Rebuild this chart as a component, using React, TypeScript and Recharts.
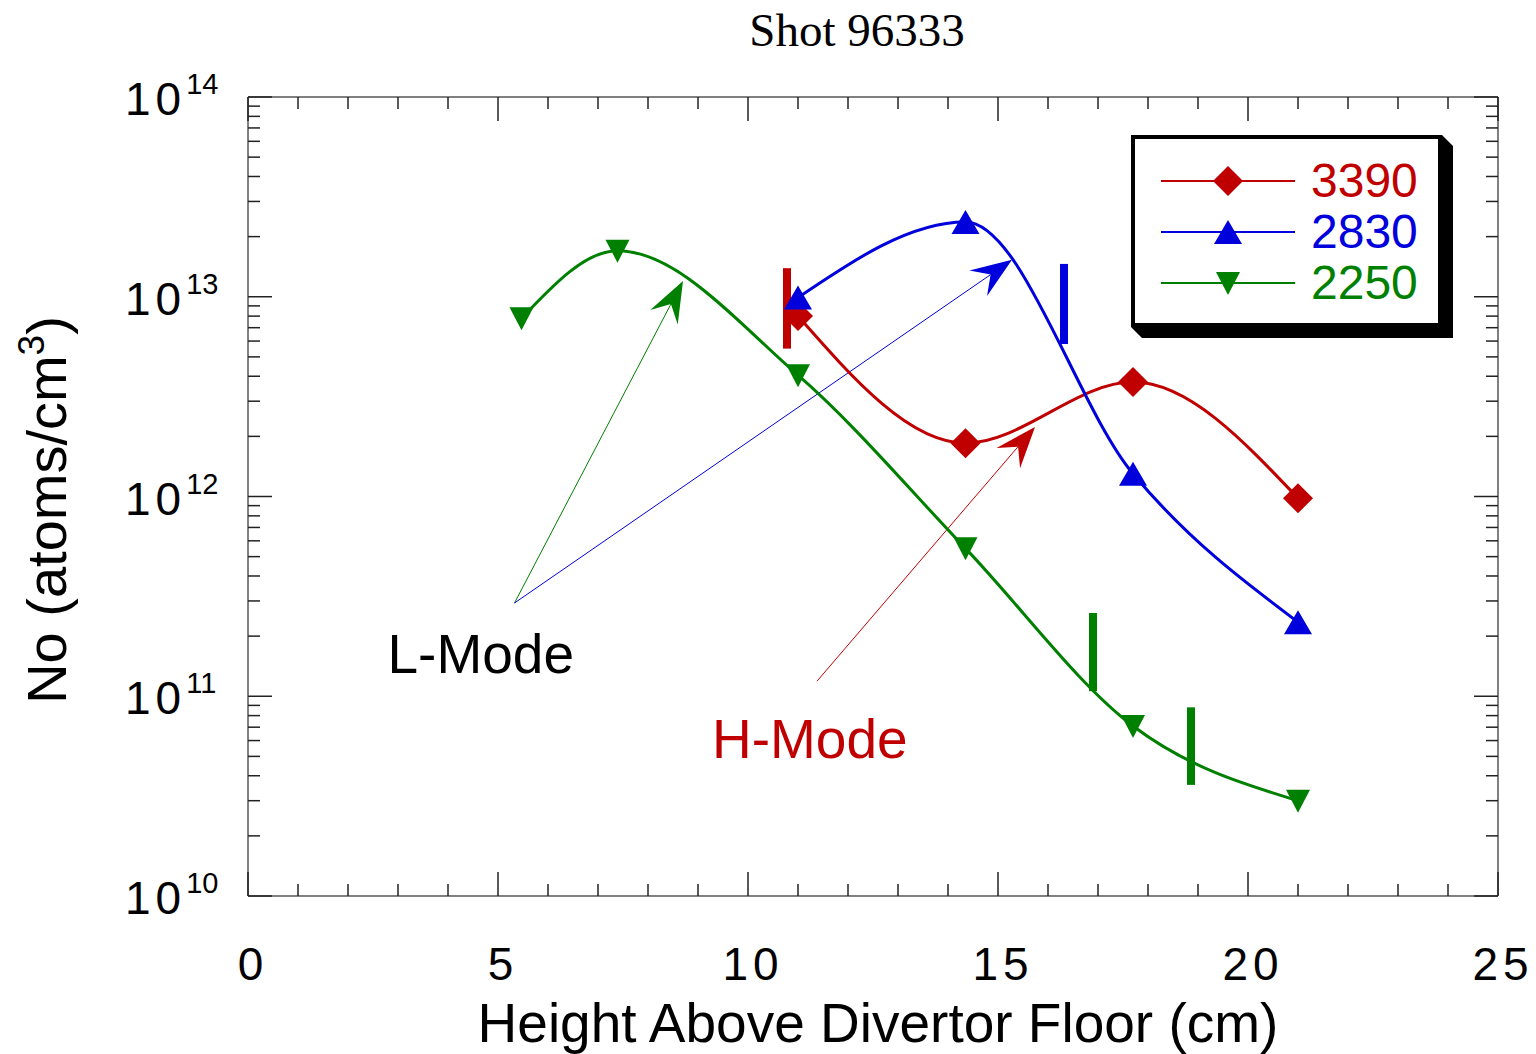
import React from "react";
import {
  ComposedChart,
  Line,
  XAxis,
  YAxis,
  ReferenceLine,
  ReferenceDot,
  Legend,
  Label,
} from "recharts";

const RED = "#c00000";
const BLUE = "#0000dd";
const GREEN = "#008000";
const SANS = "'Liberation Sans', Arial, sans-serif";
const SERIF = "'Liberation Serif', 'Times New Roman', serif";

// heights above divertor floor (cm)
const heightsLong = [5.47, 7.39, 11, 14.35, 17.7, 21];
const heightsShort = [11, 14.35, 17.7, 21];

// neutral density (atoms/cm^3)
const no3390 = [8.0e12, 1.85e12, 3.74e12, 9.8e11];
const no2830 = [9.9e12, 2.37e13, 1.3e12, 2.35e11];
const no2250 = [7.8e12, 1.7e13, 4.05e12, 5.5e11, 7.1e10, 3.0e10];

const seriesNames = ["3390", "2830", "2250"];

// vertical marks on the curves
const markX = [10.78, 16.32, 16.9, 18.86];
const markLo = [5.5e12, 5.8e12, 1.06e11, 3.6e10];
const markHi = [1.39e13, 1.46e13, 2.61e11, 8.8e10];
const markSeries = ["3390", "2830", "2250", "2250"];

// annotation arrows
const arrowFromX = [5.33, 5.33, 11.38];
const arrowFromY = [2.93e11, 2.93e11, 1.19e11];
const arrowToX = [8.7, 15.28, 15.74];
const arrowToY = [1.2e13, 1.53e13, 2.23e12];
const arrowSeries = ["2250", "2830", "3390"];

const xTicks = [
  0, 1, 2, 3, 4, 5, 6, 7, 8, 9, 10, 11, 12, 13, 14, 15, 16, 17, 18, 19, 20, 21,
  22, 23, 24, 25,
];
const xMajor = [0, 5, 10, 15, 20, 25];
const yDecades = [10, 11, 12, 13];
const yMantissas = [1, 2, 3, 4, 5, 6, 7, 8, 9];
const yTicks = [
  ...yDecades.flatMap((d) => yMantissas.map((m) => m * 10 ** d)),
  1e14,
];

const colorOf: Record<string, string> = {
  "3390": RED,
  "2830": BLUE,
  "2250": GREEN,
};

const toPoints = (xs: number[], ys: number[]) =>
  ys.map((y, i) => ({ x: xs[i], y }));

const data3390 = toPoints(heightsShort, no3390);
const data2830 = toPoints(heightsShort, no2830);
const data2250 = toPoints(heightsLong, no2250);

const isDecade = (v: number) => {
  const l = Math.log10(v);
  return Math.abs(l - Math.round(l)) < 1e-6;
};

const Diamond = ({ cx, cy, fill }: any) => (
  <polygon
    points={`${cx},${cy - 15} ${cx + 15},${cy} ${cx},${cy + 15} ${cx - 15},${cy}`}
    fill={fill}
  />
);
const TriUp = ({ cx, cy, fill }: any) => (
  <polygon
    points={`${cx},${cy - 12} ${cx + 14},${cy + 12} ${cx - 14},${cy + 12}`}
    fill={fill}
  />
);
const TriDown = ({ cx, cy, fill }: any) => (
  <polygon
    points={`${cx - 12},${cy - 11} ${cx + 12},${cy - 11} ${cx},${cy + 12}`}
    fill={fill}
  />
);
const markerOf: Record<string, any> = {
  "3390": Diamond,
  "2830": TriUp,
  "2250": TriDown,
};

const TICK = "#222";
const FRAME = { stroke: "#808080", strokeWidth: 2 };

const BottomTick = ({ x, y, payload }: any) => {
  const major = xMajor.includes(payload.value);
  return (
    <g>
      <line x1={x} y1={y} x2={x} y2={y - (major ? 24 : 12)} stroke={TICK} strokeWidth={1.5} />
      {major && (
        <text
          x={x + 5}
          y={y + 84}
          textAnchor="middle"
          fontSize={46}
          letterSpacing={5}
          fontFamily={SANS}
          fill="#000"
        >
          {payload.value}
        </text>
      )}
    </g>
  );
};

const TopTick = ({ x, y, payload }: any) => {
  const major = xMajor.includes(payload.value);
  return (
    <line x1={x} y1={y} x2={x} y2={y + (major ? 24 : 12)} stroke={TICK} strokeWidth={1.5} />
  );
};

const LeftTick = ({ x, y, payload }: any) => {
  const major = isDecade(payload.value);
  return (
    <g>
      <line x1={x} y1={y} x2={x + (major ? 24 : 12)} y2={y} stroke={TICK} strokeWidth={1.5} />
      {major && (
        <text x={x - 123} y={y + 18} fontFamily={SANS} fill="#000">
          <tspan fontSize={46} letterSpacing={5}>
            10
          </tspan>
          <tspan fontSize={29} dy={-21}>
            {Math.round(Math.log10(payload.value))}
          </tspan>
        </text>
      )}
    </g>
  );
};

const RightTick = ({ x, y, payload }: any) => {
  const major = isDecade(payload.value);
  return (
    <line x1={x} y1={y} x2={x - (major ? 24 : 12)} y2={y} stroke={TICK} strokeWidth={1.5} />
  );
};

const TitleLabel = ({ viewBox }: any) => (
  <text
    x={857}
    y={viewBox.y + viewBox.height - 51}
    textAnchor="middle"
    fontSize={47}
    fontFamily={SERIF}
    fill="#000"
  >
    Shot 96333
  </text>
);

const XTitle = ({ viewBox }: any) => (
  <text
    x={878}
    y={viewBox.y + 146}
    textAnchor="middle"
    fontSize={55}
    fontFamily={SANS}
    fill="#000"
  >
    Height Above Divertor Floor (cm)
  </text>
);

const YTitle = ({ viewBox }: any) => {
  const cx = viewBox.x + viewBox.width - 182;
  const cy = viewBox.y + 413;
  return (
    <text
      x={cx}
      y={cy}
      transform={`rotate(-90, ${cx}, ${cy})`}
      textAnchor="middle"
      fontSize={56}
      fontFamily={SANS}
      fill="#000"
    >
      No (atoms/cm
      <tspan fontSize={37} dy={-22}>
        3
      </tspan>
      <tspan dy={22}>)</tspan>
    </text>
  );
};

const arrowShape = (color: string) => (props: any) => {
  const { x1, y1, x2, y2 } = props;
  const dx = x2 - x1;
  const dy = y2 - y1;
  const len = Math.hypot(dx, dy) || 1;
  const ux = dx / len;
  const uy = dy / len;
  const nx = -uy;
  const ny = ux;
  const back = 41;
  const half = 15.5;
  const notch = 26;
  const pts = [
    [x2, y2],
    [x2 - ux * back + nx * half, y2 - uy * back + ny * half],
    [x2 - ux * notch, y2 - uy * notch],
    [x2 - ux * back - nx * half, y2 - uy * back - ny * half],
  ]
    .map((p) => p.join(","))
    .join(" ");
  return (
    <g>
      <line
        x1={x1}
        y1={y1}
        x2={x2 - ux * notch}
        y2={y2 - uy * notch}
        stroke={color}
        strokeWidth={1}
      />
      <polygon points={pts} fill={color} />
    </g>
  );
};

const modeLabel = (text: string, color: string) => (props: any) => (
  <text x={props.cx} y={props.cy} fontSize={55} fontFamily={SANS} fill={color}>
    {text}
  </text>
);

const LegendBox = () => (
  <svg width={340} height={220}>
    <polygon points="318,6 329,17 329,209 18,209 7,198 318,198" fill="#000" />
    <rect x={9} y={8} width={307} height={188} fill="#fff" stroke="#000" strokeWidth={4} />
    {seriesNames.map((name, i) => {
      const cy = 52 + i * 51;
      const Marker = markerOf[name];
      const c = colorOf[name];
      return (
        <g key={name}>
          <line x1={37} y1={cy} x2={171} y2={cy} stroke={c} strokeWidth={2} />
          <Marker cx={104} cy={cy} fill={c} />
          <text x={187} y={cy + 16} fontSize={48} fontFamily={SANS} fill={c}>
            {name}
          </text>
        </g>
      );
    })}
  </svg>
);

const seriesData: Record<string, { x: number; y: number }[]> = {
  "3390": data3390,
  "2830": data2830,
  "2250": data2250,
};

export default function App() {
  return (
    <div style={{ position: "absolute", left: 0, top: 0 }}>
      <ComposedChart
        width={1536}
        height={1054}
        margin={{ top: 67, right: 18, bottom: 98, left: 188 }}
      >
        <XAxis
          dataKey="x"
          type="number"
          domain={[0, 25]}
          allowDataOverflow
          ticks={xTicks}
          interval={0}
          height={60}
          tickSize={0}
          tickMargin={0}
          tickLine={false}
          tick={BottomTick}
          axisLine={FRAME}
        >
          <Label content={XTitle} />
        </XAxis>
        <XAxis
          xAxisId="top"
          orientation="top"
          dataKey="x"
          type="number"
          domain={[0, 25]}
          allowDataOverflow
          ticks={xTicks}
          interval={0}
          height={30}
          tickSize={0}
          tickMargin={0}
          tickLine={false}
          tick={TopTick}
          axisLine={FRAME}
        >
          <Label content={TitleLabel} />
        </XAxis>
        <YAxis
          type="number"
          scale="log"
          domain={[1e10, 1e14]}
          allowDataOverflow
          ticks={yTicks}
          interval={0}
          width={60}
          tickSize={0}
          tickMargin={0}
          tickLine={false}
          tick={LeftTick}
          axisLine={FRAME}
        >
          <Label content={YTitle} />
        </YAxis>
        <YAxis
          yAxisId="right"
          orientation="right"
          type="number"
          scale="log"
          domain={[1e10, 1e14]}
          allowDataOverflow
          ticks={yTicks}
          interval={0}
          width={20}
          tickSize={0}
          tickMargin={0}
          tickLine={false}
          tick={RightTick}
          axisLine={FRAME}
        />

        {markX.map((x, i) => (
          <ReferenceLine
            key={`mark-${i}`}
            segment={[
              { x, y: markLo[i] },
              { x, y: markHi[i] },
            ]}
            stroke={colorOf[markSeries[i]]}
            strokeWidth={8}
          />
        ))}

        {arrowFromX.map((x, i) => (
          <ReferenceLine
            key={`arrow-${i}`}
            segment={[
              { x, y: arrowFromY[i] },
              { x: arrowToX[i], y: arrowToY[i] },
            ]}
            shape={arrowShape(colorOf[arrowSeries[i]])}
          />
        ))}

        {seriesNames.map((name) => {
          const Marker = markerOf[name];
          const c = colorOf[name];
          return (
            <Line
              key={name}
              name={name}
              data={seriesData[name]}
              dataKey="y"
              type="monotone"
              stroke={c}
              strokeWidth={3}
              isAnimationActive={false}
              dot={(p: any) => <Marker key={p.key ?? p.index} cx={p.cx} cy={p.cy} fill={c} />}
              activeDot={false}
            />
          );
        })}

        <ReferenceDot x={2.79} y={1.31e11} r={0} shape={modeLabel("L-Mode", "#000")} />
        <ReferenceDot x={9.28} y={4.9e10} r={0} shape={modeLabel("H-Mode", RED)} />

        <Legend
          layout="vertical"
          align="center"
          verticalAlign="middle"
          wrapperStyle={{ left: 1124, top: 129, width: 340, height: 220 }}
          content={() => <LegendBox />}
        />
      </ComposedChart>
    </div>
  );
}
